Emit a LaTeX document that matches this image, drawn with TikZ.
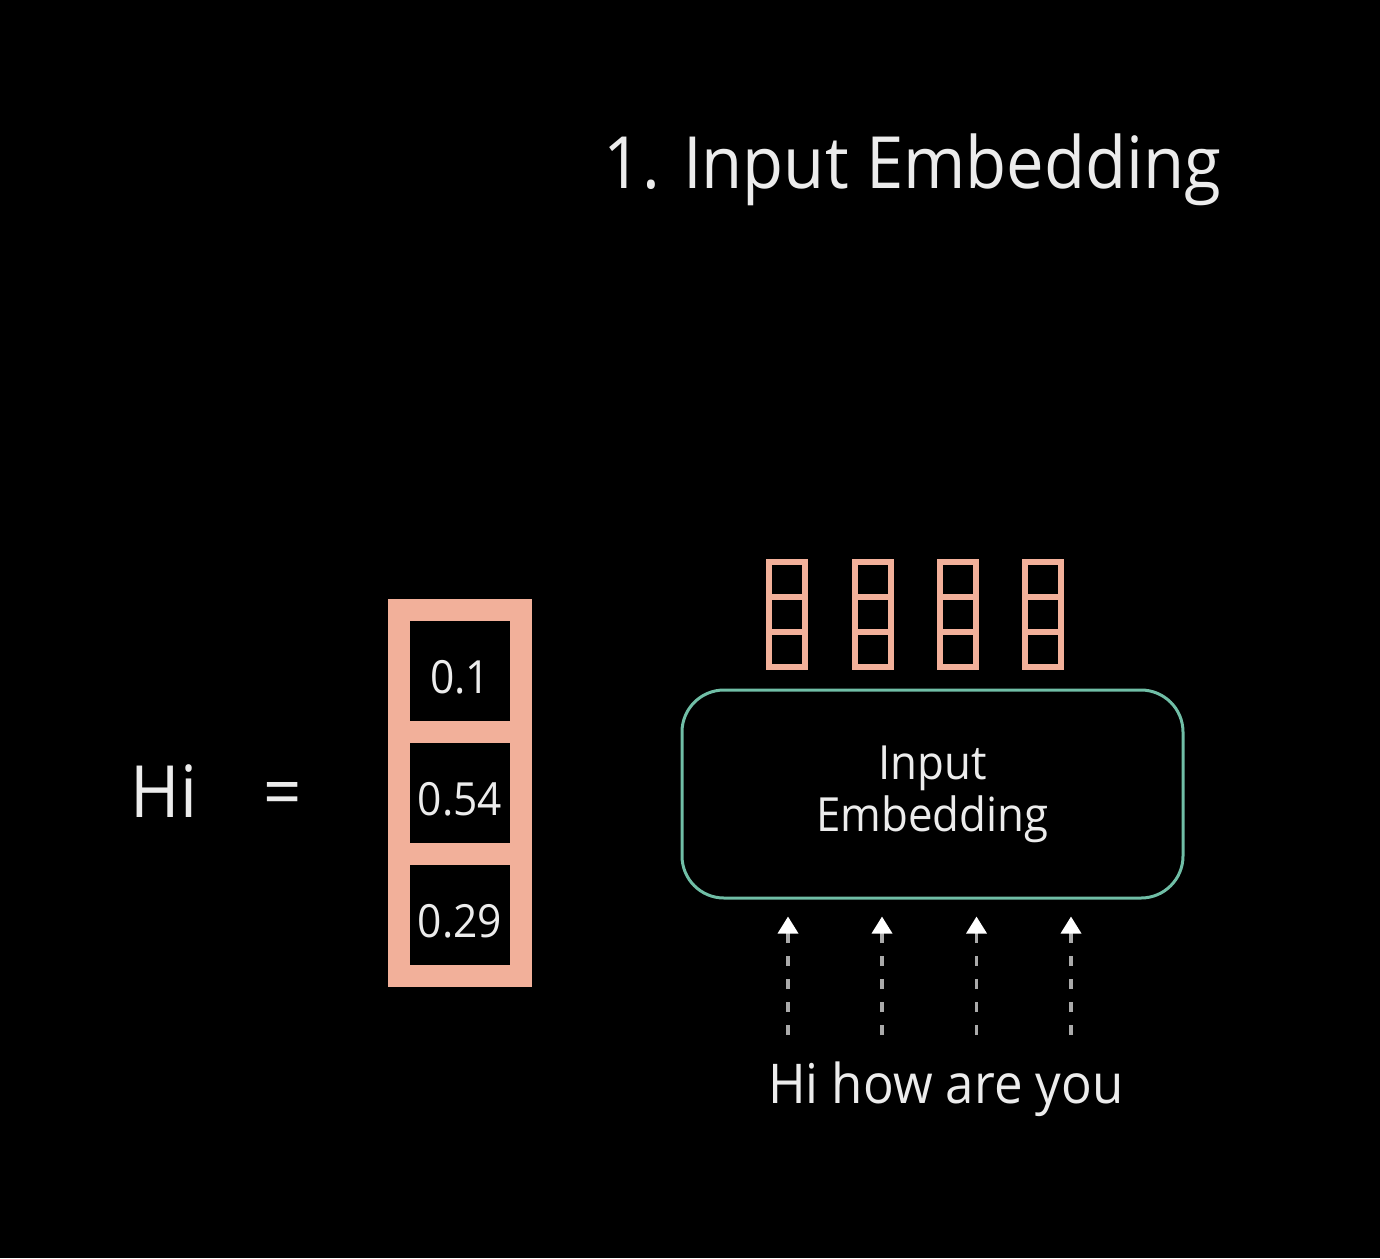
\documentclass[tikz,border=0pt]{standalone}
\usepackage{fontspec}
\setmainfont{Open Sans}[FakeStretch=0.93]
\usepackage{tikz}
\usetikzlibrary{arrows.meta, positioning}
\definecolor{salmon}{RGB}{242, 176, 154}
\definecolor{mintline}{RGB}{112, 190, 166}
\definecolor{chalk}{RGB}{236, 236, 236}
\definecolor{dashgray}{RGB}{170, 170, 170}

\begin{document}
\begin{tikzpicture}[
        node distance=0cm,
        label/.style={text=chalk, inner sep=0pt},
        bigcell/.style={rectangle, draw=salmon, line width=0.22cm, outer sep=0pt, minimum size=1.22cm, text height=0.45cm, text depth=0cm, text=chalk, font=\fontsize{13}{15}\selectfont},
        tinycell/.style={rectangle, draw=salmon, line width=0.06cm, outer sep=0pt, minimum width=0.36cm, minimum height=0.35cm},
        embbox/.style={rectangle, draw=mintline, line width=0.03cm, rounded corners=0.42cm, minimum width=5.01cm, minimum height=2.08cm, align=center, text=chalk, font=\fontsize{13.4}{14.8}\selectfont},
        uparrow/.style={-{Triangle[width=0.2cm, length=0.17cm, color=white]}, draw=dashgray, line width=0.035cm, dash pattern=on 0.1cm off 0.13cm, shorten >=0.17cm}
    ]
        \fill[black] (0,0) rectangle (13.8,-12.58);
        \useasboundingbox (0,0) rectangle (13.8,-12.58);

        \node[label, font=\fontsize{20.5}{24}\selectfont, anchor=base] (title) at (9.125,-1.88) {1. Input Embedding};

        % word vector for Hi
        \node[label, font=\fontsize{20.5}{24}\selectfont, anchor=base] (hi) at (1.64,-8.17) {Hi};
        \node[label, font=\fontsize{20.5}{24}\selectfont] (eq) at (2.83,-8.0) {=};
        \node[bigcell] (v1) at (4.60,-6.705) {0.1};
        \node[bigcell, below=of v1] (v2) {0.54};
        \node[bigcell, below=of v2] (v3) {0.29};

        % output vectors
        \node[tinycell] (a1) at (7.87,-5.79) {};
        \node[tinycell, below=of a1] (a2) {};
        \node[tinycell, below=of a2] (a3) {};
        \node[tinycell] (b1) at (8.725,-5.79) {};
        \node[tinycell, below=of b1] (b2) {};
        \node[tinycell, below=of b2] (b3) {};
        \node[tinycell] (c1) at (9.575,-5.79) {};
        \node[tinycell, below=of c1] (c2) {};
        \node[tinycell, below=of c2] (c3) {};
        \node[tinycell] (d1) at (10.425,-5.79) {};
        \node[tinycell, below=of d1] (d2) {};
        \node[tinycell, below=of d2] (d3) {};

        \node[embbox] (emb) at (9.325,-7.94) {Input\\Embedding};

        \node[label, font=\fontsize{15.6}{19}\selectfont, anchor=base] (words) at (9.46,-11.03) {Hi how are you};

        \coordinate (w1) at (7.88,-10.35);
        \coordinate (w2) at (8.82,-10.35);
        \coordinate (w3) at (9.765,-10.35);
        \coordinate (w4) at (10.71,-10.35);

        \draw[uparrow] (w1) -- (w1 |- emb.south);
        \draw[uparrow] (w2) -- (w2 |- emb.south);
        \draw[uparrow] (w3) -- (w3 |- emb.south);
        \draw[uparrow] (w4) -- (w4 |- emb.south);
    \end{tikzpicture}
\end{document}
